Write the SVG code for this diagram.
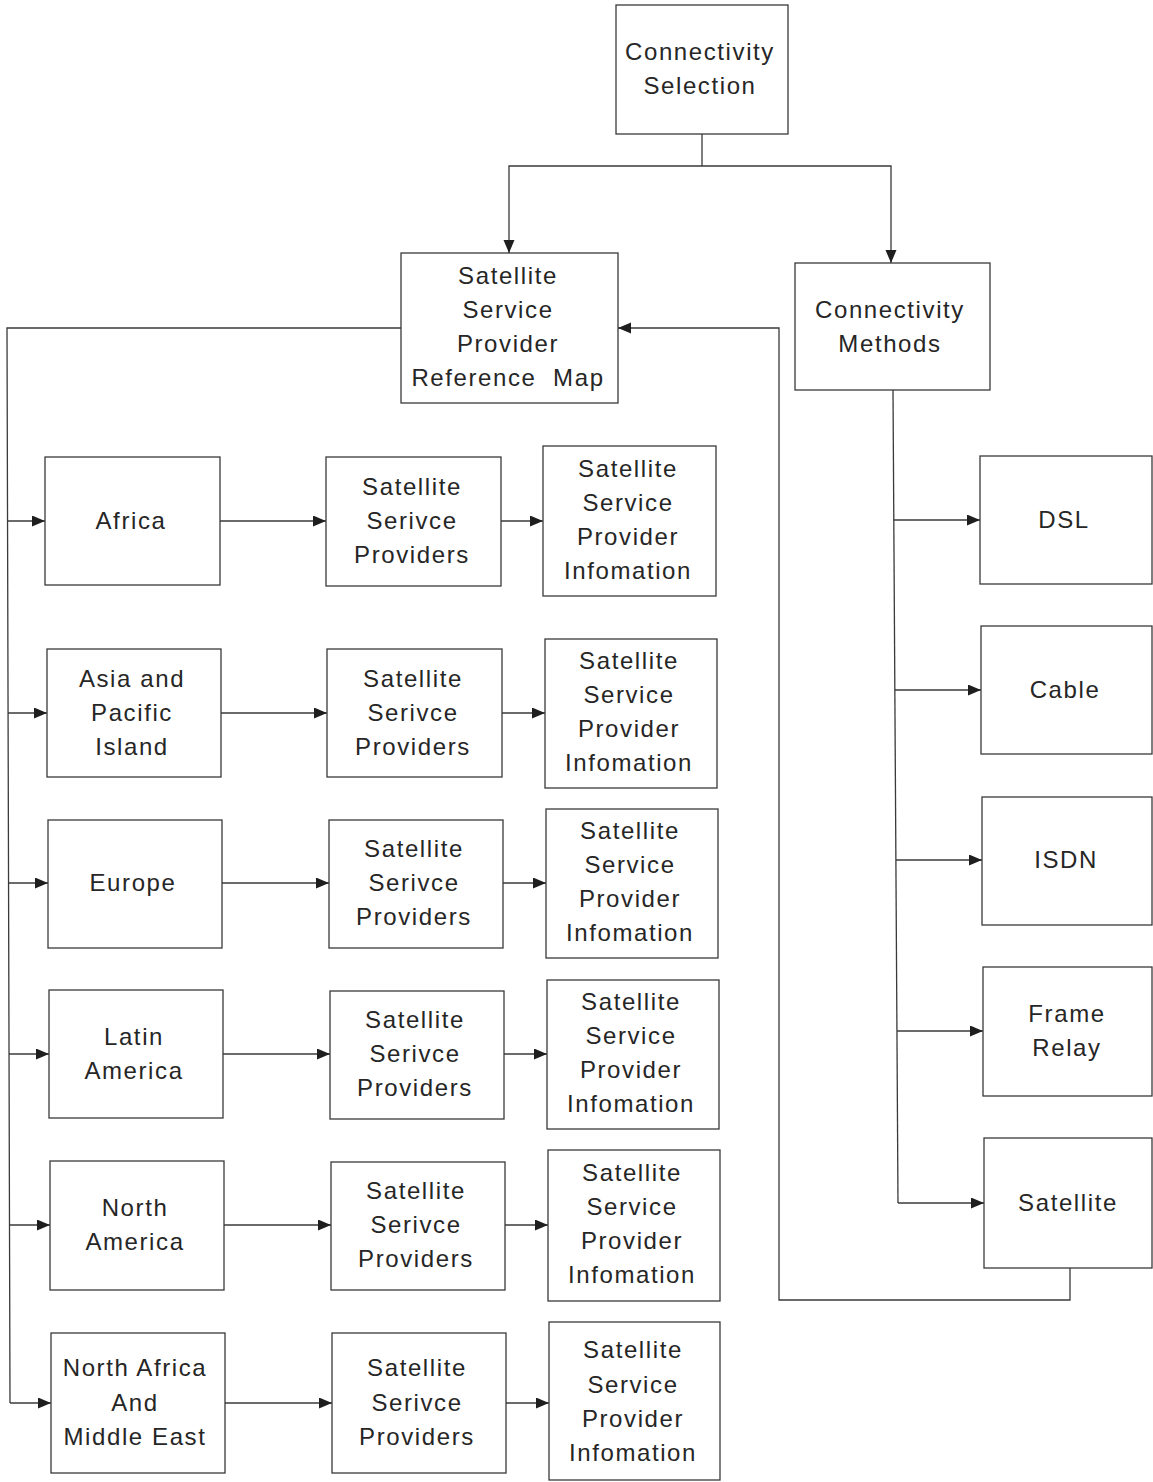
<svg xmlns="http://www.w3.org/2000/svg" width="1153" height="1482" viewBox="0 0 1153 1482">
  <style>
    .box { fill: #ffffff; stroke: #3a3a3a; stroke-width: 1.3; }
    .lbl { font-family: "Liberation Sans", Arial, sans-serif; font-size: 24px; letter-spacing: 1.6px; fill: #262626; text-anchor: middle; }
    .wire { fill: none; stroke: #3a3a3a; stroke-width: 1.3; }
    .arr { marker-end: url(#head); }
  </style>
  <defs>
    <marker id="head" markerUnits="userSpaceOnUse" markerWidth="14" markerHeight="12" refX="13" refY="5.5" orient="auto">
      <path d="M0,0 L13,5.5 L0,11 z" fill="#1e1e1e"/>
    </marker>
  </defs>
  <rect width="1153" height="1482" fill="#ffffff"/>

  <!-- connectors -->
  <g id="connectors">
    <!-- root split -->
    <polyline class="wire" points="702,134 702,166"/>
    <polyline class="wire arr" points="702,166 509,166 509,253"/>
    <polyline class="wire arr" points="702,166 891,166 891,263"/>
    <!-- reference map trunk to regions -->
    <polyline class="wire" points="401,328 7,328 10,1403"/>
    <line class="wire arr" x1="7" y1="521" x2="45" y2="521"/>
    <line class="wire arr" x1="8" y1="713" x2="47" y2="713"/>
    <line class="wire arr" x1="8" y1="883" x2="48" y2="883"/>
    <line class="wire arr" x1="9" y1="1054" x2="49" y2="1054"/>
    <line class="wire arr" x1="9" y1="1225" x2="50" y2="1225"/>
    <line class="wire arr" x1="10" y1="1403" x2="51" y2="1403"/>
    <!-- region to providers -->
    <line class="wire arr" x1="220" y1="521" x2="326" y2="521"/>
    <line class="wire arr" x1="221" y1="713" x2="327" y2="713"/>
    <line class="wire arr" x1="222" y1="883" x2="329" y2="883"/>
    <line class="wire arr" x1="223" y1="1054" x2="330" y2="1054"/>
    <line class="wire arr" x1="224" y1="1225" x2="331" y2="1225"/>
    <line class="wire arr" x1="225" y1="1403" x2="332" y2="1403"/>
    <!-- providers to information -->
    <line class="wire arr" x1="501" y1="521" x2="543" y2="521"/>
    <line class="wire arr" x1="502" y1="713" x2="545" y2="713"/>
    <line class="wire arr" x1="503" y1="883" x2="546" y2="883"/>
    <line class="wire arr" x1="504" y1="1054" x2="547" y2="1054"/>
    <line class="wire arr" x1="505" y1="1225" x2="548" y2="1225"/>
    <line class="wire arr" x1="506" y1="1403" x2="549" y2="1403"/>
    <!-- methods trunk -->
    <polyline class="wire" points="893,390 898,1203"/>
    <line class="wire arr" x1="894" y1="520" x2="980" y2="520"/>
    <line class="wire arr" x1="895" y1="690" x2="981" y2="690"/>
    <line class="wire arr" x1="896" y1="860" x2="982" y2="860"/>
    <line class="wire arr" x1="897" y1="1031" x2="983" y2="1031"/>
    <line class="wire arr" x1="898" y1="1203" x2="984" y2="1203"/>
    <!-- satellite back to reference map -->
    <polyline class="wire arr" points="1070,1268 1070,1300 779,1300 779,328 618,328"/>
  </g>

  <!-- top level -->
  <g id="connectivity-selection">
    <rect class="box" x="616" y="5" width="172" height="129"/>
    <text class="lbl" x="700" y="60">Connectivity</text>
    <text class="lbl" x="700" y="94">Selection</text>
  </g>
  <g id="reference-map">
    <rect class="box" x="401" y="253" width="217" height="150"/>
    <text class="lbl" x="508" y="284">Satellite</text>
    <text class="lbl" x="508" y="318">Service</text>
    <text class="lbl" x="508" y="352">Provider</text>
    <text class="lbl" x="508" y="386" xml:space="preserve">Reference  Map</text>
  </g>
  <g id="connectivity-methods">
    <rect class="box" x="795" y="263" width="195" height="127"/>
    <text class="lbl" x="890" y="318">Connectivity</text>
    <text class="lbl" x="890" y="352">Methods</text>
  </g>

  <!-- regions -->
  <g id="region-africa">
    <rect class="box" x="45" y="457" width="175" height="128"/>
    <text class="lbl" x="131" y="529">Africa</text>
  </g>
  <g id="region-asia-pacific">
    <rect class="box" x="47" y="649" width="174" height="128"/>
    <text class="lbl" x="132" y="687">Asia and</text>
    <text class="lbl" x="132" y="721">Pacific</text>
    <text class="lbl" x="132" y="755">Island</text>
  </g>
  <g id="region-europe">
    <rect class="box" x="48" y="820" width="174" height="128"/>
    <text class="lbl" x="133" y="891">Europe</text>
  </g>
  <g id="region-latin-america">
    <rect class="box" x="49" y="990" width="174" height="128"/>
    <text class="lbl" x="134" y="1045">Latin</text>
    <text class="lbl" x="134" y="1079">America</text>
  </g>
  <g id="region-north-america">
    <rect class="box" x="50" y="1161" width="174" height="129"/>
    <text class="lbl" x="135" y="1216">North</text>
    <text class="lbl" x="135" y="1250">America</text>
  </g>
  <g id="region-north-africa-middle-east">
    <rect class="box" x="51" y="1333" width="174" height="140"/>
    <text class="lbl" x="135" y="1376">North Africa</text>
    <text class="lbl" x="135" y="1411">And</text>
    <text class="lbl" x="135" y="1445">Middle East</text>
  </g>

  <!-- provider lists -->
  <g id="providers-africa">
    <rect class="box" x="326" y="457" width="175" height="129"/>
    <text class="lbl" x="412" y="495">Satellite</text>
    <text class="lbl" x="412" y="529">Serivce</text>
    <text class="lbl" x="412" y="563">Providers</text>
  </g>
  <g id="providers-asia-pacific">
    <rect class="box" x="327" y="649" width="175" height="128"/>
    <text class="lbl" x="413" y="687">Satellite</text>
    <text class="lbl" x="413" y="721">Serivce</text>
    <text class="lbl" x="413" y="755">Providers</text>
  </g>
  <g id="providers-europe">
    <rect class="box" x="329" y="820" width="174" height="128"/>
    <text class="lbl" x="414" y="857">Satellite</text>
    <text class="lbl" x="414" y="891">Serivce</text>
    <text class="lbl" x="414" y="925">Providers</text>
  </g>
  <g id="providers-latin-america">
    <rect class="box" x="330" y="991" width="174" height="128"/>
    <text class="lbl" x="415" y="1028">Satellite</text>
    <text class="lbl" x="415" y="1062">Serivce</text>
    <text class="lbl" x="415" y="1096">Providers</text>
  </g>
  <g id="providers-north-america">
    <rect class="box" x="331" y="1162" width="174" height="128"/>
    <text class="lbl" x="416" y="1199">Satellite</text>
    <text class="lbl" x="416" y="1233">Serivce</text>
    <text class="lbl" x="416" y="1267">Providers</text>
  </g>
  <g id="providers-north-africa-middle-east">
    <rect class="box" x="332" y="1333" width="174" height="140"/>
    <text class="lbl" x="417" y="1376">Satellite</text>
    <text class="lbl" x="417" y="1411">Serivce</text>
    <text class="lbl" x="417" y="1445">Providers</text>
  </g>

  <!-- provider information -->
  <g id="info-africa">
    <rect class="box" x="543" y="446" width="173" height="150"/>
    <text class="lbl" x="628" y="477">Satellite</text>
    <text class="lbl" x="628" y="511">Service</text>
    <text class="lbl" x="628" y="545">Provider</text>
    <text class="lbl" x="628" y="579">Infomation</text>
  </g>
  <g id="info-asia-pacific">
    <rect class="box" x="545" y="639" width="172" height="149"/>
    <text class="lbl" x="629" y="669">Satellite</text>
    <text class="lbl" x="629" y="703">Service</text>
    <text class="lbl" x="629" y="737">Provider</text>
    <text class="lbl" x="629" y="771">Infomation</text>
  </g>
  <g id="info-europe">
    <rect class="box" x="546" y="809" width="172" height="149"/>
    <text class="lbl" x="630" y="839">Satellite</text>
    <text class="lbl" x="630" y="873">Service</text>
    <text class="lbl" x="630" y="907">Provider</text>
    <text class="lbl" x="630" y="941">Infomation</text>
  </g>
  <g id="info-latin-america">
    <rect class="box" x="547" y="980" width="172" height="149"/>
    <text class="lbl" x="631" y="1010">Satellite</text>
    <text class="lbl" x="631" y="1044">Service</text>
    <text class="lbl" x="631" y="1078">Provider</text>
    <text class="lbl" x="631" y="1112">Infomation</text>
  </g>
  <g id="info-north-america">
    <rect class="box" x="548" y="1150" width="172" height="151"/>
    <text class="lbl" x="632" y="1181">Satellite</text>
    <text class="lbl" x="632" y="1215">Service</text>
    <text class="lbl" x="632" y="1249">Provider</text>
    <text class="lbl" x="632" y="1283">Infomation</text>
  </g>
  <g id="info-north-africa-middle-east">
    <rect class="box" x="549" y="1322" width="171" height="158"/>
    <text class="lbl" x="633" y="1358">Satellite</text>
    <text class="lbl" x="633" y="1393">Service</text>
    <text class="lbl" x="633" y="1427">Provider</text>
    <text class="lbl" x="633" y="1461">Infomation</text>
  </g>

  <!-- connectivity methods -->
  <g id="method-dsl">
    <rect class="box" x="980" y="456" width="172" height="128"/>
    <text class="lbl" x="1064" y="528">DSL</text>
  </g>
  <g id="method-cable">
    <rect class="box" x="981" y="626" width="171" height="128"/>
    <text class="lbl" x="1065" y="698">Cable</text>
  </g>
  <g id="method-isdn">
    <rect class="box" x="982" y="797" width="170" height="128"/>
    <text class="lbl" x="1066" y="868">ISDN</text>
  </g>
  <g id="method-frame-relay">
    <rect class="box" x="983" y="967" width="169" height="129"/>
    <text class="lbl" x="1067" y="1022">Frame</text>
    <text class="lbl" x="1067" y="1056">Relay</text>
  </g>
  <g id="method-satellite">
    <rect class="box" x="984" y="1138" width="168" height="130"/>
    <text class="lbl" x="1068" y="1211">Satellite</text>
  </g>
</svg>
